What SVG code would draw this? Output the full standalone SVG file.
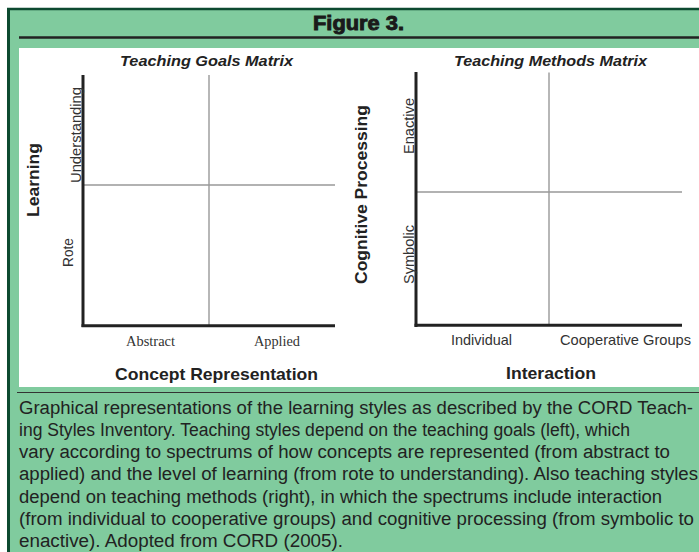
<svg xmlns="http://www.w3.org/2000/svg" width="699" height="552" viewBox="0 0 699 552">
  <style>
    .title { font-family: "Liberation Sans", Arial, sans-serif; font-weight: 900; font-size: 19.5px; fill: #1a1a1a; stroke: #1a1a1a; stroke-width: 0.9px; }
    .mtitle { font-family: "Liberation Sans", Arial, sans-serif; font-weight: bold; font-style: italic; font-size: 15px; fill: #222; }
    .axis-name { font-family: "Liberation Sans", Arial, sans-serif; font-weight: bold; font-size: 17px; fill: #222; }
    .tick { font-family: "Liberation Sans", Arial, sans-serif; font-size: 14.5px; fill: #333; }
    .tick-serif { font-family: "Liberation Serif", "Times New Roman", serif; font-size: 14.3px; fill: #333; }
    .body { font-family: "Liberation Sans", Arial, sans-serif; font-size: 18px; fill: #222; }
    .axis { stroke: #222; stroke-width: 3; fill: none; }
    .grid { stroke: #999; stroke-width: 1.4; fill: none; }
  </style>

  <!-- page and frame -->
  <rect x="0" y="0" width="699" height="552" fill="#ffffff"/>
  <rect x="8.5" y="9" width="691" height="543" fill="#80cb9e"/>
  <line x1="7" y1="9" x2="699" y2="9" stroke="#0d4a30" stroke-width="2.5"/>
  <line x1="8.5" y1="8" x2="8.5" y2="552" stroke="#0d4a30" stroke-width="3"/>

  <!-- heading -->
  <g id="heading">
    <text class="title" x="358.5" y="30" text-anchor="middle" textLength="91" lengthAdjust="spacingAndGlyphs">Figure 3.</text>
    <line x1="19" y1="37.5" x2="699" y2="37.5" stroke="#222" stroke-width="2.5"/>
  </g>

  <!-- white plotting panel -->
  <rect x="19" y="48" width="680" height="339" fill="#ffffff"/>
  <line x1="17" y1="392.5" x2="699" y2="392.5" stroke="#333" stroke-width="1.2"/>

  <!-- Teaching Goals Matrix -->
  <g id="goals-matrix">
    <text class="mtitle" x="206.5" y="66" text-anchor="middle" textLength="173" lengthAdjust="spacingAndGlyphs">Teaching Goals Matrix</text>
    <line class="grid" x1="209" y1="75" x2="209" y2="325"/>
    <line class="grid" x1="83" y1="185" x2="335" y2="185"/>
    <line class="axis" x1="83" y1="75" x2="83" y2="327"/>
    <line class="axis" x1="81.5" y1="325.8" x2="335" y2="325.8"/>
    <text class="tick" transform="translate(80.5,135) rotate(-90)" text-anchor="middle" textLength="96" lengthAdjust="spacingAndGlyphs">Understanding</text>
    <text class="tick" transform="translate(72.5,252.5) rotate(-90)" text-anchor="middle" textLength="29" lengthAdjust="spacingAndGlyphs">Rote</text>
    <text class="axis-name" transform="translate(38.5,180) rotate(-90)" text-anchor="middle" textLength="74" lengthAdjust="spacingAndGlyphs">Learning</text>
    <text class="tick-serif" x="150.5" y="345.5" text-anchor="middle" textLength="49" lengthAdjust="spacingAndGlyphs">Abstract</text>
    <text class="tick-serif" x="277" y="345.5" text-anchor="middle" textLength="46" lengthAdjust="spacingAndGlyphs">Applied</text>
    <text class="axis-name" x="216.5" y="380" text-anchor="middle" textLength="203" lengthAdjust="spacingAndGlyphs">Concept Representation</text>
  </g>

  <!-- Teaching Methods Matrix -->
  <g id="methods-matrix">
    <text class="mtitle" x="550.5" y="66" text-anchor="middle" textLength="193" lengthAdjust="spacingAndGlyphs">Teaching Methods Matrix</text>
    <line class="grid" x1="549" y1="72.5" x2="549" y2="325"/>
    <line class="grid" x1="416" y1="192" x2="682" y2="192"/>
    <line class="axis" x1="416" y1="72" x2="416" y2="327"/>
    <line class="axis" x1="414.5" y1="325.3" x2="682" y2="325.3"/>
    <text class="tick" transform="translate(414,126) rotate(-90)" text-anchor="middle" textLength="56" lengthAdjust="spacingAndGlyphs">Enactive</text>
    <text class="tick" transform="translate(414,254.5) rotate(-90)" text-anchor="middle" textLength="59" lengthAdjust="spacingAndGlyphs">Symbolic</text>
    <text class="axis-name" transform="translate(367,194.5) rotate(-90)" text-anchor="middle" textLength="179" lengthAdjust="spacingAndGlyphs">Cognitive Processing</text>
    <text class="tick" x="481.5" y="344.5" text-anchor="middle" textLength="61" lengthAdjust="spacingAndGlyphs">Individual</text>
    <text class="tick" x="625.5" y="344.5" text-anchor="middle" textLength="131" lengthAdjust="spacingAndGlyphs">Cooperative Groups</text>
    <text class="axis-name" x="551" y="379" text-anchor="middle" textLength="90" lengthAdjust="spacingAndGlyphs">Interaction</text>
  </g>

  <!-- caption -->
  <g id="caption">
    <text class="body" x="19" y="413.5" textLength="674" lengthAdjust="spacingAndGlyphs">Graphical representations of the learning styles as described by the CORD Teach-</text>
    <text class="body" x="19" y="435.8" textLength="611" lengthAdjust="spacingAndGlyphs">ing Styles Inventory. Teaching styles depend on the teaching goals (left), which</text>
    <text class="body" x="19" y="458.1" textLength="651" lengthAdjust="spacingAndGlyphs">vary according to spectrums of how concepts are represented (from abstract to</text>
    <text class="body" x="19" y="480.4" textLength="679" lengthAdjust="spacingAndGlyphs">applied) and the level of learning (from rote to understanding). Also teaching styles</text>
    <text class="body" x="19" y="502.7" textLength="643" lengthAdjust="spacingAndGlyphs">depend on teaching methods (right), in which the spectrums include interaction</text>
    <text class="body" x="19" y="525" textLength="675" lengthAdjust="spacingAndGlyphs">(from individual to cooperative groups) and cognitive processing (from symbolic to</text>
    <text class="body" x="19" y="547.3" textLength="324" lengthAdjust="spacingAndGlyphs">enactive). Adopted from CORD (2005).</text>
  </g>
</svg>
